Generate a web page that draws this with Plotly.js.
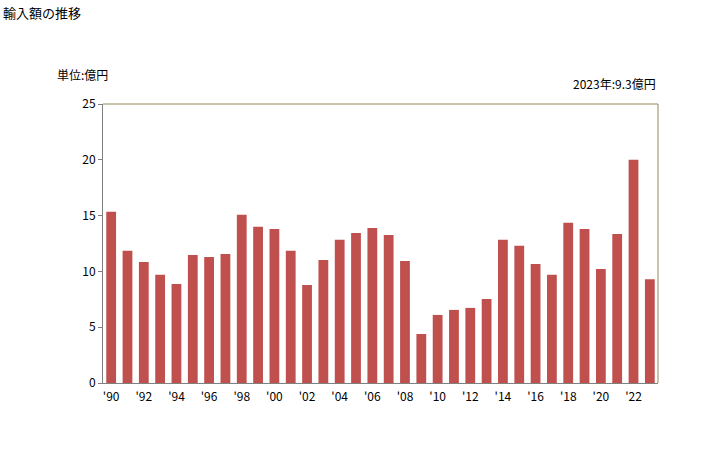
<!DOCTYPE html>
<html>
<head>
<meta charset="utf-8">
<script src="https://cdn.plot.ly/plotly-3.0.1.min.js"></script>
<style>html,body{margin:0;padding:0;background:#fff;}#chart{width:728px;height:450px;}</style>
</head>
<body>
<div id="chart"></div>
<script>
const years = [1990,1991,1992,1993,1994,1995,1996,1997,1998,1999,2000,2001,2002,2003,2004,2005,2006,2007,2008,2009,2010,2011,2012,2013,2014,2015,2016,2017,2018,2019,2020,2021,2022,2023];
const values = [15.34,11.84,10.85,9.69,8.88,11.48,11.30,11.57,15.07,13.99,13.81,11.84,8.79,11.03,12.83,13.45,13.9,13.27,10.94,4.39,6.1,6.55,6.73,7.53,12.83,12.29,10.67,9.69,14.35,13.81,10.22,13.36,20.0,9.3];
const tickYears = [1990,1992,1994,1996,1998,2000,2002,2004,2006,2008,2010,2012,2014,2016,2018,2020,2022];
const tickLabels = ["'90","'92","'94","'96","'98","'00","'02","'04","'06","'08","'10","'12","'14","'16","'18","'20","'22"];
const yTicks = [0,5,10,15,20,25];

const font = "'Noto Sans CJK JP', 'DejaVu Sans', sans-serif";
const trace = {
  type: 'bar', x: years, y: values,
  marker: {color: '#C0504D'},
  hoverinfo: 'skip'
};
const layout = {
  width: 728, height: 450,
  margin: {l: 103, r: 70, t: 104, b: 67},
  paper_bgcolor: '#fff', plot_bgcolor: '#fff',
  bargap: 0.4,
  showlegend: false,
  font: {family: font, size: 12, color: '#000'},
  xaxis: {
    range: [1989.5, 2023.5], tickvals: tickYears, ticktext: tickLabels,
    showgrid: false, zeroline: false, showline: true, linecolor: '#808080', linewidth: 1,
    ticks: '', ticklabelstandoff: 3, tickfont: {size: 12, family: font}, mirror: false
  },
  yaxis: {
    range: [0, 25], tickvals: yTicks, showgrid: false, zeroline: false,
    showline: true, linecolor: '#808080', linewidth: 1,
    ticks: 'outside', ticklen: 4, tickcolor: '#808080',
    tickfont: {size: 12, family: font}
  },
  shapes: [
    {type: 'line', xref: 'paper', yref: 'paper', x0: 0, x1: 1, y0: 1, y1: 1, line: {color: '#948A54', width: 1}},
    {type: 'line', xref: 'paper', yref: 'paper', x0: 1, x1: 1, y0: 0, y1: 1, line: {color: '#948A54', width: 1}}
  ],
  annotations: [
    {text: '輸入額の推移', xref: 'paper', yref: 'paper', x: -103/558, y: 1 + 92/279, xanchor: 'left', yanchor: 'middle', showarrow: false, font: {size: 13, family: font}},
    {text: '単位:億円', xref: 'paper', yref: 'paper', x: -48/558, y: 1 + 30/279, xanchor: 'left', yanchor: 'middle', showarrow: false, font: {size: 12, family: font}},
    {text: '2023年:9.3億円', xref: 'paper', yref: 'paper', x: 1, y: 1 + 21/279, xanchor: 'right', yanchor: 'middle', showarrow: false, font: {size: 12, family: font}}
  ]
};
Plotly.newPlot('chart', [trace], layout, {displayModeBar: false, staticPlot: true});
</script>
</body>
</html>
